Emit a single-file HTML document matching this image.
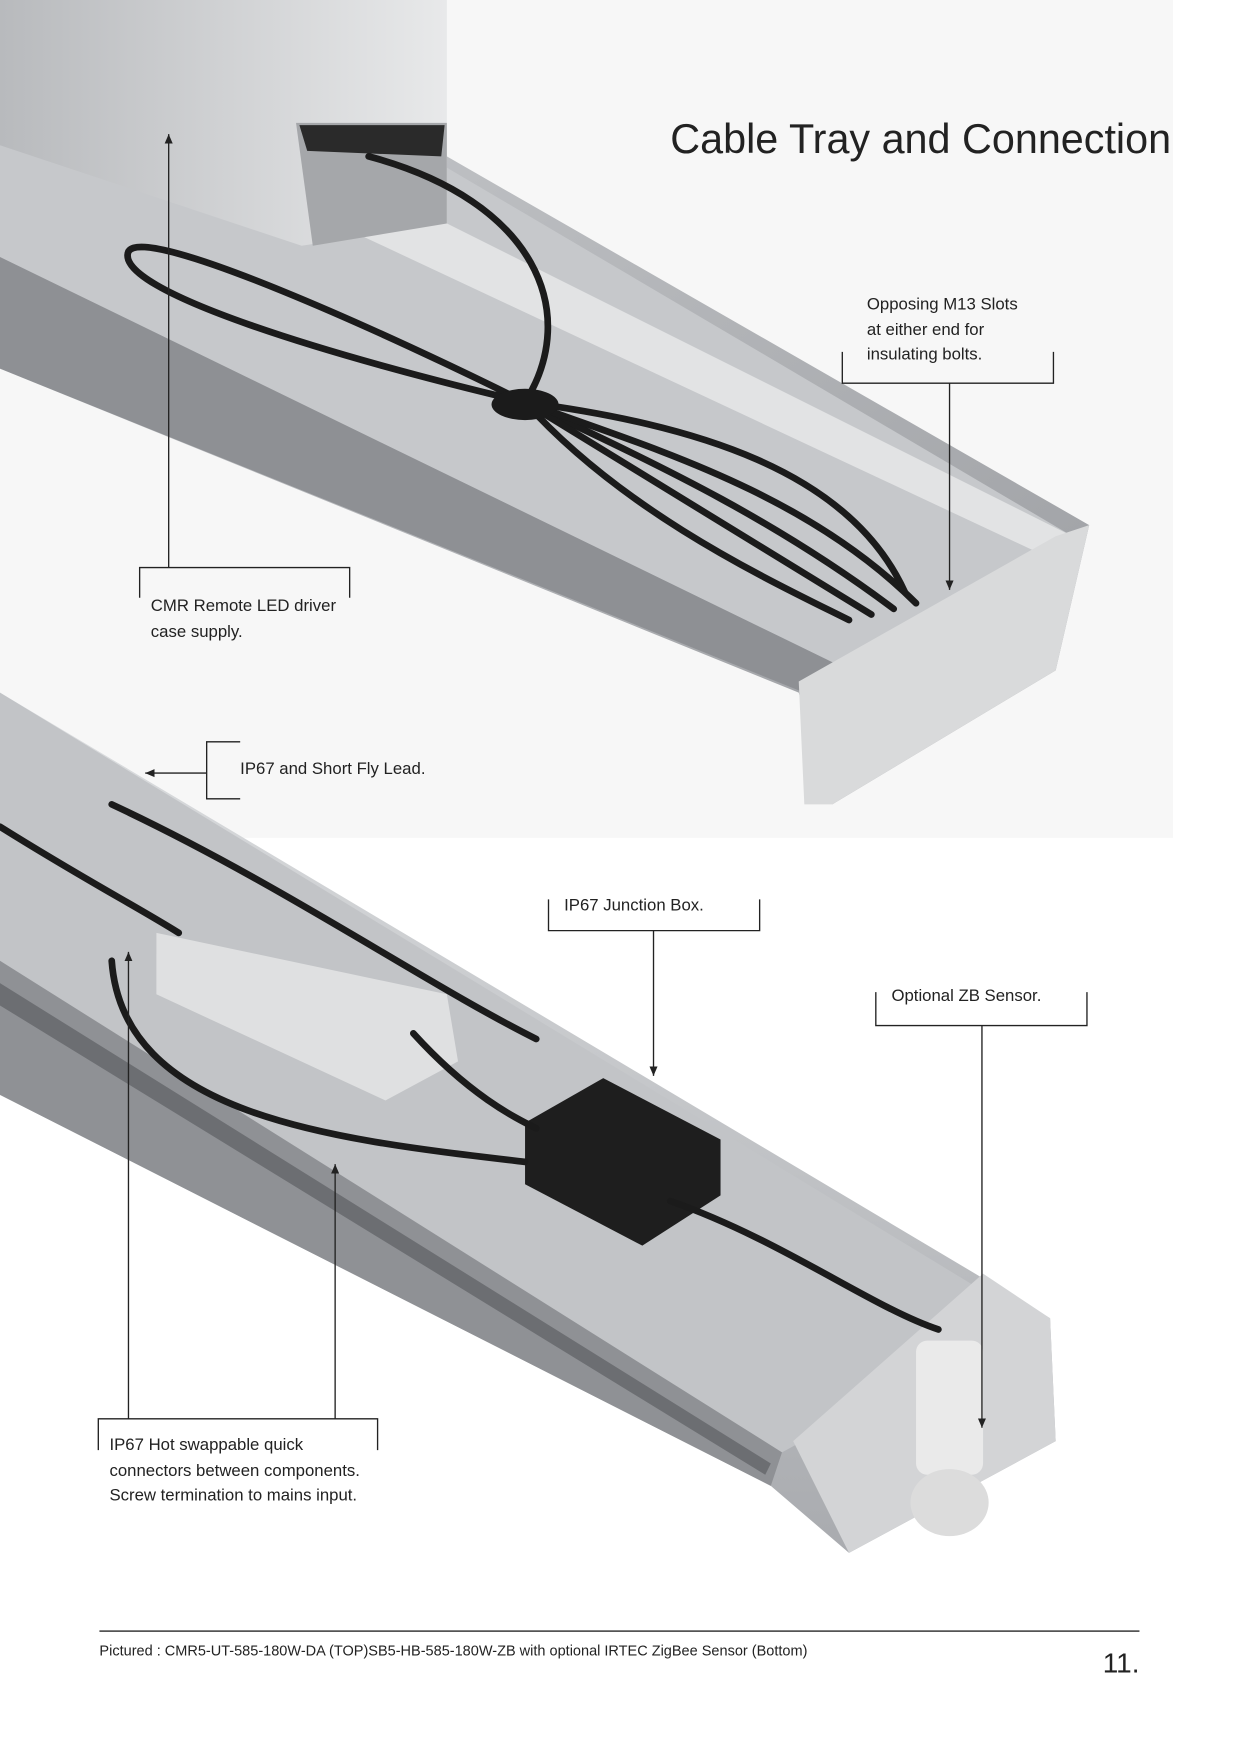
<!DOCTYPE html>
<html><head><meta charset="utf-8"><style>
html,body{margin:0;padding:0;background:#fff}
svg{display:block}
text{font-family:"Liberation Sans",Arial,sans-serif;fill:#222}
</style></head><body>
<svg width="1240" height="1754" viewBox="0 0 1110 1570" preserveAspectRatio="none" xmlns="http://www.w3.org/2000/svg">
<defs>
<linearGradient id="g1" x1="0" y1="0" x2="1" y2="1"><stop offset="0" stop-color="#c9cbce"/><stop offset="1" stop-color="#9a9ca0"/></linearGradient>
<linearGradient id="g2" x1="0" y1="0" x2="0" y2="1"><stop offset="0" stop-color="#dcdee0"/><stop offset="1" stop-color="#a9abaf"/></linearGradient>
<linearGradient id="g3" x1="0" y1="0" x2="1" y2="0"><stop offset="0" stop-color="#b8babd"/><stop offset="1" stop-color="#e8e9ea"/></linearGradient>
<marker id="ah" markerWidth="8" markerHeight="8" refX="7" refY="4" orient="auto"><path d="M0,1 L7,4 L0,7 z" fill="#222"/></marker>
</defs>
<rect width="1110" height="1570" fill="#fff"/>
<rect x="0" y="0" width="1050" height="750" fill="#f7f7f7"/>
<polygon points="0,70 400,140 975,470 945,600 745,720 715,620 0,330" fill="url(#g1)"/>
<polygon points="0,90 400,150 960,480 760,600 0,230" fill="#c6c8cb"/>
<polygon points="300,150 960,480 930,495 300,200" fill="#e2e3e4"/>
<polygon points="0,230 760,600 720,620 0,330" fill="#8e9094"/>
<polygon points="715,610 945,480 975,470 945,600 745,720 720,720" fill="#d9dadb"/>
<polygon points="0,0 400,0 400,200 270,220 0,130" fill="url(#g3)"/>
<polygon points="265,110 400,110 400,200 280,220" fill="#a5a7aa"/>
<polygon points="268,112 398,112 395,140 275,135" fill="#2a2a2a"/>
<g stroke="#1b1b1b" stroke-width="6" fill="none" stroke-linecap="round">
<path d="M330,140 C480,180 520,280 470,360"/>
<path d="M470,360 C300,320 100,260 115,225 C130,200 350,300 470,360"/>
<path d="M470,360 C600,420 700,470 800,545"/>
<path d="M470,360 C600,440 700,500 780,550"/>
<path d="M470,360 C580,400 720,440 820,540"/>
<path d="M470,360 C560,460 690,520 760,555"/>
<path d="M470,360 C620,380 760,420 810,530"/>
</g>
<ellipse cx="470" cy="362" rx="30" ry="14" fill="#1b1b1b"/>
<polygon points="0,620 940,1180 945,1290 760,1390 690,1330 0,980" fill="url(#g2)"/>
<polygon points="0,620 920,1180 700,1300 0,860" fill="#c2c4c7"/>
<polygon points="0,860 700,1300 690,1330 0,980" fill="#8f9195"/>
<polygon points="0,880 690,1310 685,1320 0,900" fill="#6c6e72"/>
<polygon points="710,1290 880,1140 940,1180 945,1290 760,1390" fill="#d3d4d6"/>
<polygon points="140,835 400,890 410,950 345,985 140,890" fill="#dfe0e1"/>
<polygon points="470,1005 540,965 645,1020 645,1070 575,1115 470,1060" fill="#1e1e1e"/>
<rect x="820" y="1200" width="60" height="120" rx="10" fill="#eaeaea"/>
<ellipse cx="850" cy="1345" rx="35" ry="30" fill="#dcdcdc"/>
<g stroke="#1b1b1b" stroke-width="6" fill="none" stroke-linecap="round">
<path d="M0,740 C80,790 120,810 160,835"/>
<path d="M100,720 C250,790 380,880 480,930"/>
<path d="M100,860 C110,1000 300,1020 470,1040"/>
<path d="M370,925 C420,980 460,1000 480,1010"/>
<path d="M600,1075 C700,1110 780,1170 840,1190"/>
</g>
<g stroke="#222" stroke-width="1.2" fill="none">
<path d="M754,315 V343 H943 V315"/>
<path d="M850,343 V528" marker-end="url(#ah)"/>
<path d="M125,535 V508 H313 V535"/>
<path d="M151,508 V120" marker-end="url(#ah)"/>
<path d="M215,664 H185 V715 H215"/>
<path d="M185,692 H130" marker-end="url(#ah)"/>
<path d="M491,805 V833 H680 V805"/>
<path d="M585,833 V963" marker-end="url(#ah)"/>
<path d="M784,888 V918 H973 V888"/>
<path d="M879,918 V1278" marker-end="url(#ah)"/>
<path d="M88,1298 V1270 H338 V1298"/>
<path d="M115,1270 V852" marker-end="url(#ah)"/>
<path d="M300,1270 V1042" marker-end="url(#ah)"/>
</g>
<text x="600" y="137" font-size="37">Cable Tray and Connection</text>
<g font-size="15">
<text x="776" y="277">Opposing M13 Slots</text>
<text x="776" y="300">at either end for</text>
<text x="776" y="322">insulating bolts.</text>
<text x="135" y="547">CMR Remote LED driver</text>
<text x="135" y="570">case supply.</text>
<text x="215" y="693">IP67 and Short Fly Lead.</text>
<text x="505" y="815">IP67 Junction Box.</text>
<text x="798" y="896">Optional ZB Sensor.</text>
<text x="98" y="1298">IP67 Hot swappable quick</text>
<text x="98" y="1321">connectors between components.</text>
<text x="98" y="1343">Screw termination to mains input.</text>
</g>
<line x1="89" y1="1460" x2="1020" y2="1460" stroke="#555" stroke-width="1.5"/>
<text x="89" y="1482" font-size="13">Pictured : CMR5-UT-585-180W-DA (TOP)SB5-HB-585-180W-ZB with optional  IRTEC ZigBee Sensor (Bottom)</text>
<text x="1020" y="1497" font-size="25" text-anchor="end">11.</text>
</svg>
</body></html>
